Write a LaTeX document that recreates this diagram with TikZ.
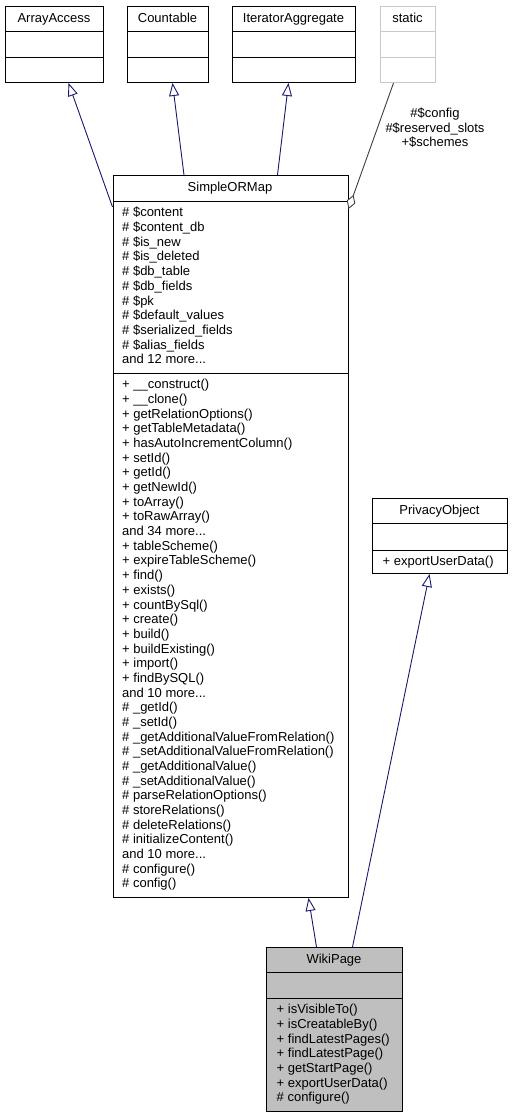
\documentclass[tikz,border=0pt]{standalone}
\usepackage{fontspec}
\setmainfont{Liberation Sans}
\usetikzlibrary{arrows.meta}
\definecolor{edgeblue}{HTML}{191970}
\definecolor{boxgray}{HTML}{BFBFBF}
\definecolor{lightframe}{HTML}{C8C8C8}
\definecolor{aggrgray}{HTML}{404040}
\newcommand\mydots{...}
\begin{document}
\begin{tikzpicture}[x=1pt,y=-1pt,
  umlbox/.style={draw=black, line width=1pt, inner sep=0pt, anchor=north west},
  divider/.style={line width=1pt},
  ttl/.style={anchor=base, inner sep=0pt, font=\fontsize{13}{15}\selectfont},
  mem/.style={anchor=base west, inner sep=0pt, font=\fontsize{13}{15}\selectfont},
  inh/.style={draw=edgeblue, line width=0.9pt, -{Triangle[length=13pt,width=10pt,fill=white]}},
  agg/.style={draw=aggrgray, line width=0.9pt, -{Diamond[length=15pt,width=9pt,fill=white]}},
]
\useasboundingbox (0,0) rectangle (512,1117);
\fill[white] (0,0) rectangle (512,1117);

% ---------- top boxes ----------
\node[umlbox, minimum width=98pt, minimum height=76pt] (aa) at (5,6) {};
\node[umlbox, minimum width=81pt, minimum height=76pt] (co) at (127,6) {};
\node[umlbox, minimum width=123pt, minimum height=76pt] (it) at (232,6) {};
\node[umlbox, draw=lightframe, minimum width=55pt, minimum height=76pt] (st) at (380,6) {};
\foreach \b in {aa,co,it}{
  \draw[divider] ([yshift=-25pt]\b.north west) -- ([yshift=-25pt]\b.north east);
  \draw[divider] ([yshift=-51pt]\b.north west) -- ([yshift=-51pt]\b.north east);
}
\draw[divider, lightframe] ([yshift=-25pt]st.north west) -- ([yshift=-25pt]st.north east);
\draw[divider, lightframe] ([yshift=-51pt]st.north west) -- ([yshift=-51pt]st.north east);
\node[ttl] (aaT) at (54,22.2) {ArrayAccess};
\node[ttl] (coT) at (167.5,22.2) {Countable};
\node[ttl] (itT) at (293.5,22.2) {IteratorAggregate};
\node[ttl] (stT) at (407.5,22.2) {static};

% ---------- SimpleORMap ----------
\node[umlbox, minimum width=235pt, minimum height=722pt] (som) at (112.5,175) {};
\draw[divider] ([yshift=-26pt]som.north west) -- ([yshift=-26pt]som.north east);
\draw[divider] ([yshift=-198pt]som.north west) -- ([yshift=-198pt]som.north east);
\node[ttl] (somT) at (230,191.5) {SimpleORMap};
\foreach \t [count=\i from 0] in {
  {\# \$content},{\# \$content\_db},{\# \$is\_new},{\# \$is\_deleted},
  {\# \$db\_table},{\# \$db\_fields},{\# \$pk},{\# \$default\_values},
  {\# \$serialized\_fields},{\# \$alias\_fields},{and 12 more\mydots}}
  \node[mem] (sa\i) at (122,{216.8+\i*14.7}) {\t};
\foreach \t [count=\i from 0] in {
  {+ \_\_construct()},{+ \_\_clone()},{+ getRelationOptions()},
  {+ getTableMetadata()},{+ hasAutoIncrementColumn()},{+ setId()},
  {+ getId()},{+ getNewId()},{+ toArray()},{+ toRawArray()},
  {and 34 more\mydots},{+ tableScheme()},{+ expireTableScheme()},{+ find()},
  {+ exists()},{+ countBySql()},{+ create()},{+ build()},
  {+ buildExisting()},{+ import()},{+ findBySQL()},{and 10 more\mydots},
  {\# \_getId()},{\# \_setId()},{\# \_getAdditionalValueFromRelation()},
  {\# \_setAdditionalValueFromRelation()},{\# \_getAdditionalValue()},
  {\# \_setAdditionalValue()},{\# parseRelationOptions()},
  {\# storeRelations()},{\# deleteRelations()},{\# initializeContent()},
  {and 10 more\mydots},{\# configure()},{\# config()}}
  \node[mem] (sm\i) at (122,{388.8+\i*14.68}) {\t};

% ---------- PrivacyObject ----------
\node[umlbox, minimum width=135pt, minimum height=75pt] (po) at (372,498) {};
\draw[divider] ([yshift=-25pt]po.north west) -- ([yshift=-25pt]po.north east);
\draw[divider] ([yshift=-52pt]po.north west) -- ([yshift=-52pt]po.north east);
\node[ttl] (poT) at (439.5,514.5) {PrivacyObject};
\node[mem] (pm0) at (382.5,565.2) {+ exportUserData()};

% ---------- WikiPage ----------
\node[umlbox, fill=boxgray, minimum width=136pt, minimum height=164pt] (wp) at (266,947) {};
\draw[divider] ([yshift=-25pt]wp.north west) -- ([yshift=-25pt]wp.north east);
\draw[divider] ([yshift=-51pt]wp.north west) -- ([yshift=-51pt]wp.north east);
\node[ttl] (wpT) at (334,963.2) {WikiPage};
\foreach \t [count=\i from 0] in {
  {+ isVisibleTo()},{+ isCreatableBy()},{+ findLatestPages()},
  {+ findLatestPage()},{+ getStartPage()},{+ exportUserData()},
  {\# configure()}}
  \node[mem] (wm\i) at (276.5,{1013.6+\i*14.7}) {\t};

% ---------- connector end points ----------
\coordinate (aaTip) at ([xshift=14pt]aa.south);
\coordinate (coTip) at ([xshift=4.5pt]co.south);
\coordinate (itTip) at ([xshift=-5.5pt]it.south);
\coordinate (stOut) at ([xshift=-14.5pt]st.south);
\coordinate (somAA) at ([yshift=-32pt]som.north west);
\coordinate (somCO) at ([xshift=-46.5pt]som.north);
\coordinate (somIT) at ([xshift=47pt]som.north);
\coordinate (somST) at ([yshift=-34pt]som.north east);
\coordinate (somTip) at ([xshift=78pt]som.south);
\coordinate (poTip) at ([xshift=-10.5pt]po.south);
\coordinate (wpSOM) at ([xshift=-18pt]wp.north);
\coordinate (wpPO) at ([xshift=18pt]wp.north);

% ---------- connectors ----------
\draw[inh] (somAA) -- (aaTip);
\draw[inh] (somCO) -- (coTip);
\draw[inh] (somIT) -- (itTip);
\draw[agg] (stOut) -- (somST);
\draw[inh] (wpSOM) -- (somTip);
\draw[inh] (wpPO) -- (poTip);

% ---------- aggregation label ----------
\node[ttl] (lb0) at (435,117.5) {\#\$config};
\node[ttl] (lb1) at (435,132.2) {\#\$reserved\_slots};
\node[ttl] (lb2) at (435,146.9) {+\$schemes};
\end{tikzpicture}
\end{document}
